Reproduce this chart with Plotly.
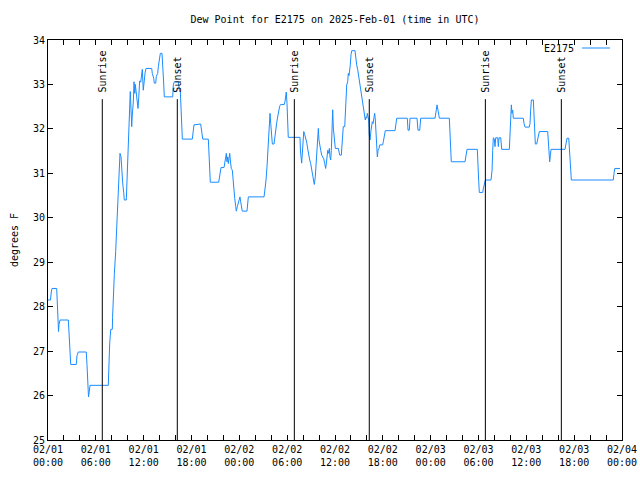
import pandas as pd
import plotly.graph_objects as go

# hours since 2025-02-01 00:00 UTC
hours = [0.00, 0.31, 0.41, 0.50, 1.09, 1.17, 1.25, 1.32, 1.38, 1.51, 2.55, 2.63, 2.76, 2.85, 3.55, 3.64, 3.80, 4.80, 4.89, 5.02,
         5.08, 5.18, 5.27, 7.56, 7.61, 7.74, 7.87, 8.07, 8.10, 8.19, 8.32, 8.49, 8.62, 8.74, 8.82, 8.94, 9.03, 9.16, 9.24, 9.37,
         9.50, 9.57, 9.82, 9.87, 9.95, 10.07, 10.20, 10.32, 10.41, 10.50, 10.57, 10.70, 10.79, 10.88, 10.95, 11.08, 11.20, 11.29, 11.38, 11.50,
         11.63, 11.75, 11.83, 11.95, 12.08, 12.17, 12.29, 13.01, 13.08, 13.26, 13.33, 13.51, 13.59, 13.76, 13.84, 13.96, 14.09, 14.30, 14.39, 14.51,
         14.59, 15.64, 15.72, 15.84, 16.35, 16.47, 16.60, 16.68, 16.77, 16.85, 18.10, 18.19, 18.31, 19.15, 19.28, 19.41, 20.11, 20.20, 20.28, 20.36,
         21.41, 21.49, 21.58, 21.70, 22.08, 22.17, 22.29, 22.37, 22.45, 22.54, 22.62, 22.70, 22.79, 22.87, 22.99, 23.12, 23.21, 23.29, 23.42, 23.55,
         23.62, 23.75, 23.87, 24.00, 24.08, 24.17, 24.30, 24.37, 24.96, 25.05, 25.13, 27.10, 27.22, 27.35, 27.47, 27.56, 27.68, 27.76, 27.85, 27.94,
         28.06, 28.14, 28.35, 28.44, 28.56, 28.69, 28.81, 28.94, 29.06, 29.19, 29.64, 29.73, 29.82, 29.89, 29.98, 30.07, 30.14, 31.61, 31.67, 31.82,
         31.95, 32.08, 32.20, 32.33, 32.45, 32.58, 32.70, 32.83, 32.95, 33.08, 33.20, 33.33, 33.40, 33.53, 33.62, 33.71, 33.83, 33.91, 33.99, 34.08,
         34.21, 34.33, 34.46, 34.58, 34.71, 34.83, 34.96, 35.09, 35.21, 35.29, 35.37, 35.46, 35.54, 35.63, 35.71, 35.79, 35.91, 36.04, 36.42, 36.50,
         36.59, 36.79, 36.88, 36.97, 37.04, 37.22, 37.29, 37.38, 37.47, 37.59, 37.67, 37.76, 37.84, 37.92, 38.01, 38.10, 38.51, 38.60, 38.72, 38.85,
         38.97, 39.10, 39.23, 39.35, 39.48, 39.60, 39.73, 39.80, 39.89, 39.98, 40.05, 40.14, 40.23, 40.30, 40.39, 40.52, 40.60, 40.68, 40.77, 40.86,
         40.98, 41.06, 41.14, 41.23, 41.31, 41.40, 41.52, 41.61, 41.98, 42.06, 42.19, 42.31, 43.53, 43.62, 43.74, 45.07, 45.16, 45.32, 45.41, 46.29,
         46.41, 46.63, 46.75, 48.55, 48.67, 48.80, 48.92, 49.09, 50.34, 50.43, 50.51, 50.59, 52.31, 52.43, 52.56, 53.85, 53.94, 54.03, 54.10, 54.53,
         54.60, 54.73, 54.86, 55.57, 55.70, 55.78, 55.86, 55.98, 56.07, 56.16, 56.41, 56.49, 56.57, 56.79, 56.91, 57.87, 57.95, 58.04, 58.12, 58.20,
         58.29, 58.37, 59.62, 59.71, 59.84, 60.37, 60.46, 60.55, 60.63, 60.88, 60.96, 61.05, 61.13, 61.30, 61.38, 61.50, 61.63, 62.68, 62.76, 62.85,
         62.93, 63.01, 63.10, 64.85, 64.98, 65.10, 65.32, 65.39, 65.48, 65.57, 65.64, 70.91, 71.00, 71.09, 71.75]

dewpoint = [28.15, 28.15, 28.33, 28.41, 28.41, 28.15, 27.70, 27.44, 27.60, 27.70, 27.70, 27.44, 26.99, 26.70, 26.70, 26.90, 26.98, 26.98, 26.70, 26.24,
            25.97, 26.10, 26.23, 26.23, 26.55, 27.18, 27.49, 27.49, 27.76, 28.22, 28.73, 29.24, 29.75, 30.25, 30.74, 31.22, 31.45, 31.37, 31.10, 30.78,
            30.56, 30.40, 30.40, 30.62, 31.37, 31.75, 32.46, 32.84, 32.46, 32.05, 32.31, 32.60, 33.06, 32.80, 33.00, 32.75, 32.58, 32.46, 32.70, 33.08,
            33.05, 33.25, 33.34, 32.87, 33.16, 33.25, 33.36, 33.36, 33.25, 33.14, 33.03, 33.03, 33.18, 33.25, 33.40, 33.55, 33.70, 33.70, 33.47, 33.03,
            32.72, 32.72, 32.99, 33.06, 33.06, 32.88, 32.84, 32.50, 32.01, 31.77, 31.77, 31.95, 32.09, 32.11, 31.97, 31.77, 31.77, 31.50, 31.07, 30.80,
            30.80, 30.92, 31.07, 31.13, 31.13, 31.26, 31.36, 31.45, 31.26, 31.37, 31.22, 31.33, 31.45, 31.30, 31.11, 31.07, 30.85, 30.62, 30.44, 30.25,
            30.15, 30.25, 30.36, 30.44, 30.47, 30.36, 30.25, 30.15, 30.15, 30.32, 30.47, 30.47, 30.62, 30.85, 31.15, 31.49, 31.90, 32.18, 32.35, 32.12,
            31.86, 31.66, 31.66, 31.82, 31.97, 32.14, 32.27, 32.42, 32.51, 32.55, 32.55, 32.62, 32.72, 32.83, 32.57, 32.12, 31.81, 31.81, 31.50, 31.23,
            31.75, 31.94, 31.87, 31.80, 31.70, 31.55, 31.37, 31.30, 31.22, 31.10, 31.00, 30.85, 30.75, 30.92, 31.15, 31.52, 31.82, 32.01, 31.75, 31.60,
            31.52, 31.41, 31.37, 31.33, 31.22, 31.11, 31.30, 31.52, 31.45, 31.56, 31.37, 31.30, 31.52, 32.20, 32.43, 32.02, 31.75, 31.56, 31.56, 31.45,
            31.41, 31.41, 31.60, 31.86, 32.05, 32.05, 32.39, 32.65, 32.99, 33.06, 33.25, 33.20, 33.28, 33.44, 33.67, 33.76, 33.76, 33.59, 33.44, 33.33,
            33.18, 33.03, 32.87, 32.70, 32.57, 32.42, 32.29, 32.20, 32.27, 32.24, 32.35, 32.29, 32.20, 31.86, 31.75, 31.97, 32.05, 32.16, 32.12, 32.24,
            32.35, 32.20, 31.90, 31.60, 31.37, 31.52, 31.56, 31.64, 31.64, 31.71, 31.82, 31.96, 31.96, 32.09, 32.24, 32.24, 31.97, 31.97, 32.24, 32.24,
            31.97, 31.97, 32.24, 32.24, 32.42, 32.54, 32.42, 32.24, 32.24, 31.97, 31.52, 31.26, 31.26, 31.40, 31.54, 31.54, 31.30, 30.81, 30.57, 30.57,
            30.65, 30.75, 30.85, 30.85, 31.07, 31.52, 31.80, 31.78, 31.60, 31.80, 31.80, 31.60, 31.80, 31.80, 31.54, 31.54, 31.80, 32.27, 32.54, 32.35,
            32.42, 32.24, 32.24, 32.12, 32.04, 32.04, 32.12, 32.45, 32.65, 32.65, 32.20, 31.90, 31.66, 31.66, 31.75, 31.85, 31.94, 31.94, 31.75, 31.45,
            31.26, 31.40, 31.54, 31.54, 31.64, 31.79, 31.79, 31.64, 31.37, 31.07, 30.85, 30.85, 31.00, 31.11, 31.11]

sun_event_hours = [6.81, 16.22, 30.90, 40.30, 54.86, 64.39]
sun_event_labels = ["Sunrise", "Sunset", "Sunrise", "Sunset", "Sunrise", "Sunset"]

y_ticks = [25, 26, 27, 28, 29, 30, 31, 32, 33, 34]

base = pd.Timestamp("2025-02-01 00:00")
times = base + pd.to_timedelta(hours, unit="h")
sun_times = base + pd.to_timedelta(sun_event_hours, unit="h")

FONT = "DejaVu Sans Mono"
LINE_COLOR = "#1a8cff"

fig = go.Figure()
fig.add_trace(go.Scatter(x=times, y=dewpoint, mode="lines",
                         line=dict(color=LINE_COLOR, width=1), name="E2175",
                         showlegend=False))

shapes = []
annotations = []
for t, lab in zip(sun_times, sun_event_labels):
    shapes.append(dict(type="line", xref="x", yref="y", x0=t, x1=t, y0=25, y1=32.67,
                       line=dict(color="black", width=1)))
    annotations.append(dict(x=t, y=32.80, xref="x", yref="y", text=lab, textangle=-90,
                            showarrow=False, xanchor="center", yanchor="bottom",
                            font=dict(family=FONT, size=10, color="black"), borderpad=0))

fig.update_layout(
    width=640, height=480,
    margin=dict(l=48, r=18, t=40, b=40, autoexpand=False),
    paper_bgcolor="white", plot_bgcolor="white",
    font=dict(family=FONT, size=10, color="black"),
    title=dict(text="Dew Point for E2175 on 2025-Feb-01 (time in UTC)", x=0.5, xref="paper",
               y=1 - 19 / 480, yanchor="middle", font=dict(family=FONT, size=10, color="black")),
    shapes=shapes,
    annotations=annotations,
    showlegend=False,
)

# legend drawn in paper coordinates relative to plot area (gnuplot style: text then sample)
plot_w = 640 - 48 - 18
plot_h = 480 - 40 - 40
def px(x):
    return (x - 48) / plot_w
def py(y):
    return 1 - (y - 40) / plot_h

fig.add_annotation(x=px(576), y=py(48), xref="paper", yref="paper", text="E2175", showarrow=False,
                   xanchor="right", yanchor="middle", font=dict(family=FONT, size=10, color="black"))
fig.add_shape(type="line", xref="paper", yref="paper", x0=px(582), x1=px(610), y0=py(48), y1=py(48),
              line=dict(color=LINE_COLOR, width=1))

fig.update_xaxes(
    range=[base, base + pd.Timedelta(hours=72)],
    tickformat="%m/%d<br>%H:%M", dtick=6 * 3600 * 1000, tick0=base,
    ticks="inside", ticklen=5, tickcolor="black",
    minor=dict(dtick=2 * 3600 * 1000, ticks="inside", ticklen=5, tickcolor="black", showgrid=False),
    showline=True, linecolor="black", linewidth=1, mirror="ticks",
    showgrid=False, zeroline=False, automargin=False,
    tickfont=dict(family=FONT, size=10, color="black"),
)
fig.update_yaxes(
    range=[25, 34], tickvals=y_ticks, ticktext=[str(v) for v in y_ticks],
    ticks="inside", ticklen=5, tickcolor="black",
    showline=True, linecolor="black", linewidth=1, mirror="ticks",
    showgrid=False, zeroline=False, automargin=False,
    title=dict(text="degrees F", font=dict(family=FONT, size=10, color="black"), standoff=12),
    tickfont=dict(family=FONT, size=10, color="black"),
)

fig.write_html("out.html")
